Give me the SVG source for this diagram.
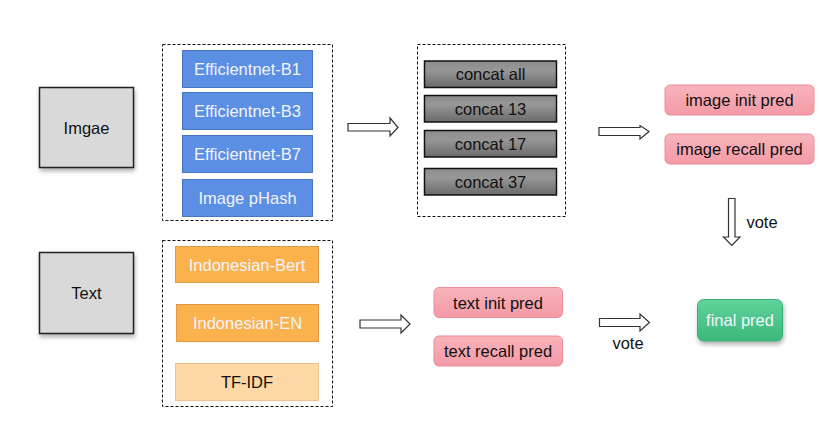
<svg xmlns="http://www.w3.org/2000/svg" width="826" height="428" viewBox="0 0 826 428">
<defs>
<linearGradient id="gGray" x1="0" y1="0" x2="0" y2="1">
<stop offset="0" stop-color="#8c8c8c"/><stop offset="0.35" stop-color="#979797"/><stop offset="1" stop-color="#6a6a6a"/>
</linearGradient>
<linearGradient id="gPink" x1="0" y1="0" x2="0" y2="1">
<stop offset="0" stop-color="#f9b4bc"/><stop offset="1" stop-color="#f39aa6"/>
</linearGradient>
<linearGradient id="gGreen" x1="0" y1="0" x2="0" y2="1">
<stop offset="0" stop-color="#5fd39c"/><stop offset="1" stop-color="#3cb77c"/>
</linearGradient>
<filter id="sh" x="-10%" y="-10%" width="130%" height="140%">
<feDropShadow dx="1" dy="3" stdDeviation="2" flood-color="#000" flood-opacity="0.3"/>
</filter>
</defs>
<style>
text{font-family:"Liberation Sans",Arial,sans-serif;font-size:16.5px;text-anchor:middle;dominant-baseline:central}
.src{fill:#d9d9d9;stroke:#222;stroke-width:1.5}
.dash{fill:none;stroke:#111;stroke-width:1;stroke-dasharray:3,2}
.blue{fill:#5b8fe3;stroke:#4a76bf;stroke-width:1}
.orange{fill:#fbb24d;stroke:#dc9a45;stroke-width:1}
.lorange{fill:#fdd7a4;stroke:#f0c488;stroke-width:1}
.gray{fill:url(#gGray);stroke:#111;stroke-width:1.5}
.pink{fill:url(#gPink);stroke:#ee8a97;stroke-width:1}
.green{fill:url(#gGreen);stroke:#3aae77;stroke-width:1}
.w{fill:#f2f4ff}
.k{fill:#111}
.arr{fill:#fff;stroke:#333;stroke-width:1.2}
</style>
<rect width="826" height="428" fill="#fff"/>
<g id="imgae"><rect class="src" x="39.5" y="87.5" width="94" height="80" filter="url(#sh)"/><text class="k" x="86.5" y="127.5">Imgae</text></g>
<g id="text"><rect class="src" x="39.5" y="252.5" width="94" height="81" filter="url(#sh)"/><text class="k" x="86.5" y="292.5">Text</text></g>
<g id="image-models">
<rect class="dash" x="162.5" y="44.5" width="170" height="176"/>
<rect class="blue" x="182.5" y="50.5" width="130" height="37"/><text class="w" x="247.5" y="69">Efficientnet-B1</text>
<rect class="blue" x="182.5" y="92.5" width="130" height="37"/><text class="w" x="247.5" y="111">Efficientnet-B3</text>
<rect class="blue" x="182.5" y="135.5" width="130" height="37"/><text class="w" x="247.5" y="154">Efficientnet-B7</text>
<rect class="blue" x="182.5" y="179.5" width="130" height="37"/><text class="w" x="247.5" y="198">Image pHash</text>
</g>
<g id="text-models">
<rect class="dash" x="162.5" y="240.5" width="170" height="166"/>
<rect class="orange" x="175.5" y="246.5" width="143" height="36"/><text class="w" x="247" y="264.5">Indonesian-Bert</text>
<rect class="orange" x="176.5" y="304.5" width="142" height="37"/><text class="w" x="247.5" y="323">Indonesian-EN</text>
<rect class="lorange" x="175.5" y="363.5" width="143" height="37"/><text class="k" x="247" y="382">TF-IDF</text>
</g>
<g id="concat">
<rect class="dash" x="417.5" y="44.5" width="148" height="172"/>
<rect class="gray" x="424.5" y="61" width="132" height="26.5"/><text class="k" x="490.5" y="74">concat all</text>
<rect class="gray" x="424.5" y="95.5" width="132" height="26.5"/><text class="k" x="490.5" y="108.5">concat 13</text>
<rect class="gray" x="424.5" y="130.5" width="132" height="26.5"/><text class="k" x="490.5" y="143.5">concat 17</text>
<rect class="gray" x="424.5" y="168.5" width="132" height="26.5"/><text class="k" x="490.5" y="181.5">concat 37</text>
</g>
<g id="image-preds">
<rect class="pink" x="665" y="85" width="149" height="30" rx="5"/><text class="k" x="739.5" y="100">image init pred</text>
<rect class="pink" x="665" y="134" width="149" height="30" rx="5"/><text class="k" x="739.5" y="149">image recall pred</text>
</g>
<g id="text-preds">
<rect class="pink" x="434" y="287.5" width="128.5" height="30" rx="5"/><text class="k" x="498" y="302.5">text init pred</text>
<rect class="pink" x="434" y="336" width="128.5" height="30" rx="5"/><text class="k" x="498" y="351">text recall pred</text>
</g>
<g id="final"><rect class="green" x="697.5" y="299.5" width="85" height="41.5" rx="6" filter="url(#sh)"/><text class="w" x="740" y="320">final pred</text></g>
<g id="connectors">
<polygon class="arr" points="348,123.5 390,123.5 390,118 398,127.5 390,136 390,131 348,131"/>
<polygon class="arr" points="599,127.5 640,127.5 640,125.5 649,131.5 640,139 640,135.5 599,135.5"/>
<polygon class="arr" points="360,320 401,320 401,315 410,324 401,333 401,328 360,328"/>
<polygon class="arr" points="599.5,318.5 640,318.5 640,314 649.5,322.5 640,331 640,326.5 599.5,326.5"/>
<polygon class="arr" points="728.5,198.5 735,198.5 735,237 740,237 731.8,245.5 723.5,237 728.5,237"/>
<text class="k" x="762" y="222">vote</text>
<text class="k" x="628" y="343">vote</text>
</g>
</svg>
